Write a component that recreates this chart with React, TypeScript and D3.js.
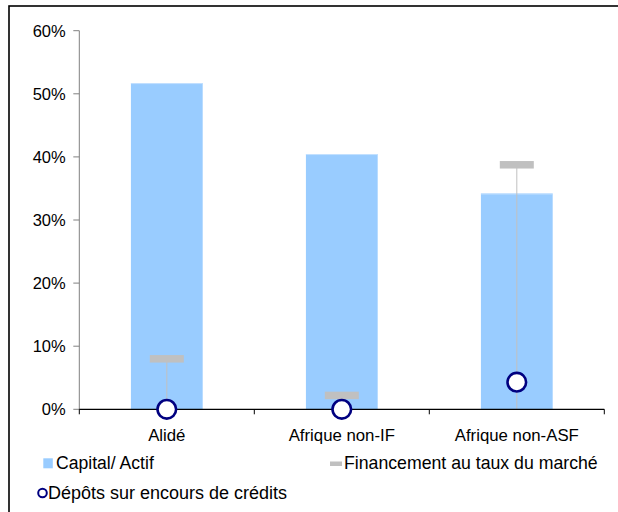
import React from "react";
import * as d3 from "d3";

const categories = ["Alidé", "Afrique non-IF", "Afrique non-ASF"];
const capitalActif = [51.7, 40.45, 34.2];
const financement = [8.0, 2.2, 38.75];
const depots = [0, 0, 4.3];
const yTicks = [0, 10, 20, 30, 40, 50, 60];
const legendLabels = ["Capital/ Actif", "Financement au taux du marché", "Dépôts sur encours de crédits"];

const W = 618;
const H = 512;
const left = 79.3;
const right = 604.3;
const top = 30.7;
const bottom = 409.3;
const FONT = "'Liberation Sans', Arial, sans-serif";

export default function App() {
  const x = d3.scaleBand<string>().domain(categories).range([left, right]).paddingInner(0.59).paddingOuter(0.295);
  const y = d3.scaleLinear().domain([0, 60]).range([bottom, top]);
  const step = x.step();
  const bw = x.bandwidth();
  const cx = (c: string) => (x(c) as number) + bw / 2;
  const boundaries = [0, 1, 2, 3].map((i) => left + i * step);

  return (
    <svg width={W} height={H} style={{ position: "absolute", left: 0, top: 0, background: "#fff" }} fontFamily={FONT}>
      <rect x={9} y={6} width={700} height={600} fill="#fff" stroke="#000" strokeWidth={1.6} />
      {/* bars */}
      {categories.map((c, i) => (
        <g key={"b" + c}>
          <rect x={x(c)} y={y(capitalActif[i])} width={bw} height={bottom - y(capitalActif[i])} fill="#99CCFF" />
          <line x1={x(c)} x2={(x(c) as number) + bw} y1={y(capitalActif[i]) + 0.5} y2={y(capitalActif[i]) + 0.5} stroke="#C4E1FF" strokeWidth={1} />
        </g>
      ))}
      {/* y axis */}
      <line x1={left} x2={left} y1={top} y2={bottom} stroke="#808080" strokeWidth={1} />
      {yTicks.map((t) => (
        <g key={"t" + t}>
          <line x1={left - 6} x2={left} y1={y(t)} y2={y(t)} stroke="#808080" strokeWidth={1} />
          <text x={65.7} y={y(t) + 5.9} textAnchor="end" fontSize={16.5} fill="#000">{`${t}%`}</text>
        </g>
      ))}
      {/* hi-lo lines */}
      {categories.map((c, i) => (
        <line key={"h" + c} x1={cx(c)} x2={cx(c)} y1={y(Math.max(financement[i], depots[i]))} y2={y(0)} stroke="#C0C0C0" strokeWidth={1} />
      ))}
      {/* x axis */}
      <line x1={left} x2={right} y1={bottom} y2={bottom} stroke="#000" strokeWidth={1.2} />
      {boundaries.map((b, i) => (
        <line key={"xt" + i} x1={b} x2={b} y1={bottom} y2={bottom + 5} stroke="#000" strokeWidth={1} />
      ))}
      {categories.map((c) => (
        <text key={"l" + c} x={cx(c)} y={440.7} textAnchor="middle" fontSize={16.8} fill="#000">{c}</text>
      ))}
      {/* financement dashes */}
      {categories.map((c, i) => (
        <rect key={"f" + c} x={cx(c) - 17} y={y(financement[i]) - 3.75} width={34} height={7.5} fill="#C0C0C0" />
      ))}
      {/* depots circles */}
      {categories.map((c, i) => (
        <circle key={"d" + c} cx={cx(c)} cy={y(depots[i])} r={9.3} fill="#fff" stroke="#000080" strokeWidth={2.6} />
      ))}
      {/* legend */}
      <rect x={43.3} y={458.3} width={9.5} height={10} fill="#99CCFF" />
      <text x={56} y={469} fontSize={17.6} fill="#000">{legendLabels[0]}</text>
      <rect x={330} y={461.5} width={12} height={4.5} fill="#C0C0C0" />
      <text x={344} y={469} fontSize={17.7} fill="#000">{legendLabels[1]}</text>
      <circle cx={42.5} cy={493} r={4.3} fill="#fff" stroke="#000080" strokeWidth={2} />
      <text x={48} y={499} fontSize={18} fill="#000">{legendLabels[2]}</text>
    </svg>
  );
}
